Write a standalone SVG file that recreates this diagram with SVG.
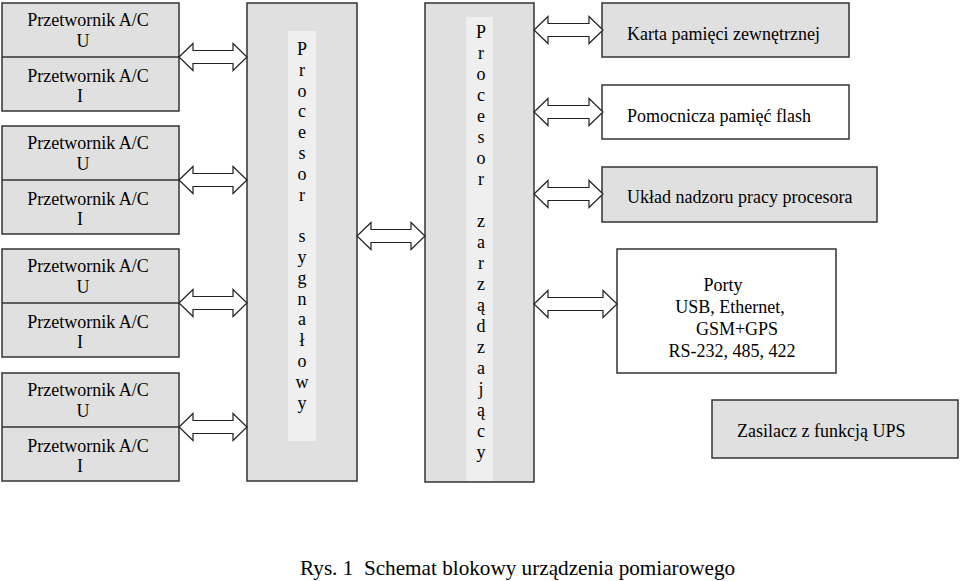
<svg xmlns="http://www.w3.org/2000/svg" width="960" height="581" viewBox="0 0 960 581">
<style>
text{font-family:"Liberation Serif","Times New Roman",serif;font-size:18px;fill:#000}
.g{fill:#e0e0e0;stroke:#333;stroke-width:1.5}
.w{fill:#fff;stroke:#333;stroke-width:1.5}
.s{fill:#efefef;stroke:none}
.dv{stroke:#333;stroke-width:1.5}
.ar{fill:#fff;stroke:#222;stroke-width:1.2;stroke-linejoin:miter}
.c{text-anchor:middle}
</style>
<rect width="960" height="581" fill="#fff"/>

<g id="adc1">
<rect class="g" x="2" y="3" width="177" height="108"/>
<line class="dv" x1="2" y1="57" x2="179" y2="57"/>
<text class="c" x="88" y="26">Przetwornik A/C</text>
<text class="c" x="83" y="47">U</text>
<text class="c" x="88" y="82">Przetwornik A/C</text>
<text class="c" x="80" y="102">I</text>
</g>
<g id="adc2">
<rect class="g" x="2" y="126" width="177" height="108"/>
<line class="dv" x1="2" y1="180" x2="179" y2="180"/>
<text class="c" x="88" y="149">Przetwornik A/C</text>
<text class="c" x="83" y="170">U</text>
<text class="c" x="88" y="205">Przetwornik A/C</text>
<text class="c" x="80" y="225">I</text>
</g>
<g id="adc3">
<rect class="g" x="2" y="249" width="177" height="108"/>
<line class="dv" x1="2" y1="303" x2="179" y2="303"/>
<text class="c" x="88" y="272">Przetwornik A/C</text>
<text class="c" x="83" y="293">U</text>
<text class="c" x="88" y="328">Przetwornik A/C</text>
<text class="c" x="80" y="348">I</text>
</g>
<g id="adc4">
<rect class="g" x="2" y="373" width="177" height="108"/>
<line class="dv" x1="2" y1="427" x2="179" y2="427"/>
<text class="c" x="88" y="396">Przetwornik A/C</text>
<text class="c" x="83" y="417">U</text>
<text class="c" x="88" y="452">Przetwornik A/C</text>
<text class="c" x="80" y="472">I</text>
</g>

<g id="dsp">
<rect class="g" x="247" y="3" width="110" height="478"/>
<rect class="s" x="288" y="31" width="28" height="410"/>
<text class="c" x="302">
<tspan x="302" y="55">P</tspan><tspan x="302" y="75.8">r</tspan><tspan x="302" y="96.6">o</tspan><tspan x="302" y="117.4">c</tspan><tspan x="302" y="138.2">e</tspan><tspan x="302" y="159">s</tspan><tspan x="302" y="179.8">o</tspan><tspan x="302" y="200.6">r</tspan><tspan x="302" y="242.2">s</tspan><tspan x="302" y="263">y</tspan><tspan x="302" y="283.8">g</tspan><tspan x="302" y="304.6">n</tspan><tspan x="302" y="325.4">a</tspan><tspan x="302" y="346.2">ł</tspan><tspan x="302" y="367">o</tspan><tspan x="302" y="387.8">w</tspan><tspan x="302" y="408.6">y</tspan>
</text>
</g>

<g id="mcu">
<rect class="g" x="425" y="3" width="109" height="479"/>
<rect class="s" x="466" y="17" width="27" height="464"/>
<text class="c" x="481">
<tspan x="481" y="38">P</tspan><tspan x="481" y="59">r</tspan><tspan x="481" y="80">o</tspan><tspan x="481" y="101">c</tspan><tspan x="481" y="122">e</tspan><tspan x="481" y="143">s</tspan><tspan x="481" y="164">o</tspan><tspan x="481" y="185">r</tspan><tspan x="481" y="227">z</tspan><tspan x="481" y="248">a</tspan><tspan x="481" y="269">r</tspan><tspan x="481" y="290">z</tspan><tspan x="481" y="311">ą</tspan><tspan x="481" y="332">d</tspan><tspan x="481" y="353">z</tspan><tspan x="481" y="374">a</tspan><tspan x="481" y="395">j</tspan><tspan x="481" y="416">ą</tspan><tspan x="481" y="437">c</tspan><tspan x="481" y="458">y</tspan>
</text>
</g>

<g id="karta">
<rect class="g" x="602" y="3" width="247" height="54"/>
<text x="627" y="40">Karta pamięci zewnętrznej</text>
</g>
<g id="flash">
<rect class="w" x="602" y="85" width="247" height="54"/>
<text x="627" y="122">Pomocnicza pamięć flash</text>
</g>
<g id="nadzor">
<rect class="g" x="602" y="167" width="275" height="55"/>
<text x="627" y="203">Układ nadzoru pracy procesora</text>
</g>
<g id="porty">
<rect class="w" x="617" y="249" width="219" height="124"/>
<text class="c" x="723" y="291">Porty</text>
<text class="c" x="730" y="313">USB, Ethernet,</text>
<text class="c" x="737" y="335">GSM+GPS</text>
<text class="c" x="732" y="357">RS-232, 485, 422</text>
</g>
<g id="zasilacz">
<rect class="g" x="712" y="400" width="246" height="58"/>
<text x="737" y="437">Zasilacz z funkcją UPS</text>
</g>

<g id="connectors">
<polygon class="ar" points="179,57 193,43.5 193,50.5 233,50.5 233,43.5 247,57 233,70.5 233,63.5 193,63.5 193,70.5"/>
<polygon class="ar" points="179,180 193,166.5 193,173.5 233,173.5 233,166.5 247,180 233,193.5 233,186.5 193,186.5 193,193.5"/>
<polygon class="ar" points="179,303 193,289.5 193,296.5 233,296.5 233,289.5 247,303 233,316.5 233,309.5 193,309.5 193,316.5"/>
<polygon class="ar" points="179,427 193,413.5 193,420.5 233,420.5 233,413.5 247,427 233,440.5 233,433.5 193,433.5 193,440.5"/>
<polygon class="ar" points="357,236 371,222.5 371,229.5 411,229.5 411,222.5 425,236 411,249.5 411,242.5 371,242.5 371,249.5"/>
<polygon class="ar" points="534,30 548,16.5 548,23.5 589,23.5 589,16.5 603,30 589,43.5 589,36.5 548,36.5 548,43.5"/>
<polygon class="ar" points="534,112 548,98.5 548,105.5 589,105.5 589,98.5 603,112 589,125.5 589,118.5 548,118.5 548,125.5"/>
<polygon class="ar" points="534,194 548,180.5 548,187.5 589,187.5 589,180.5 603,194 589,207.5 589,200.5 548,200.5 548,207.5"/>
<polygon class="ar" points="534,304 548,290.5 548,297.5 603,297.5 603,290.5 617,304 603,317.5 603,310.5 548,310.5 548,317.5"/>
</g>

<text id="caption" x="300" y="575" style="font-size:21.2px" xml:space="preserve">Rys. 1  Schemat blokowy urządzenia pomiarowego</text>
</svg>
